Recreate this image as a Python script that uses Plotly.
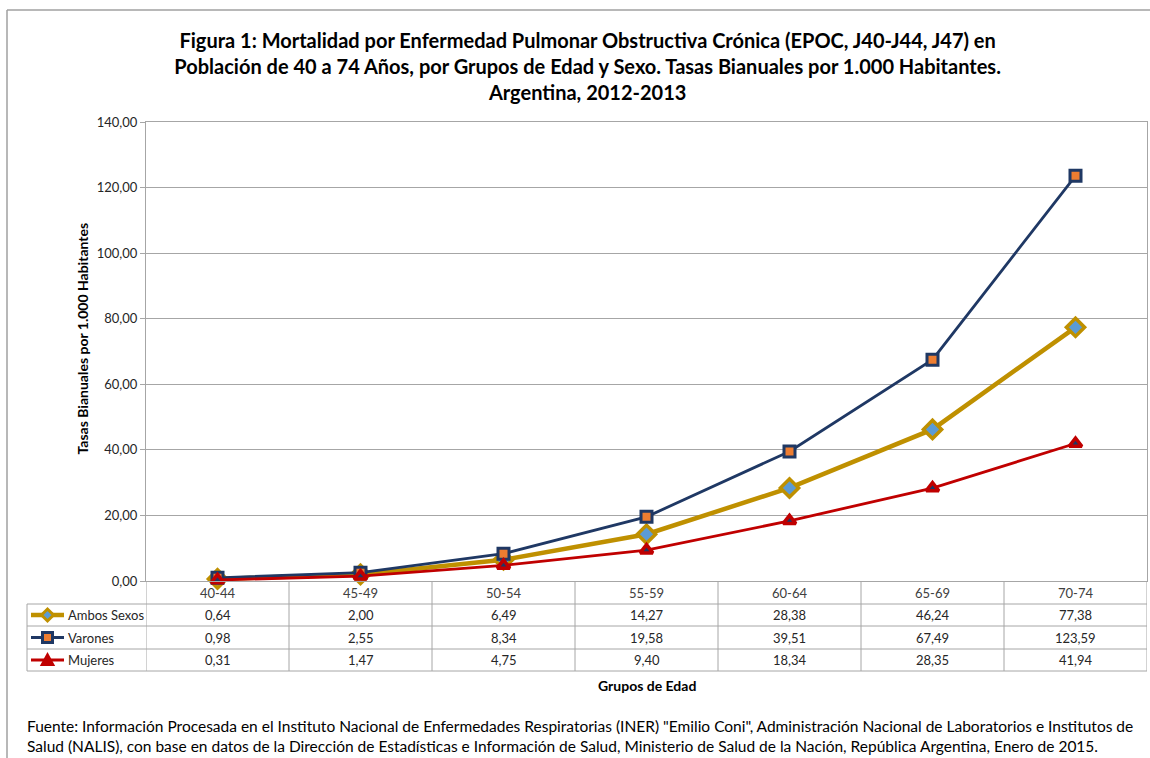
import plotly.graph_objects as go

categories = ["40-44", "45-49", "50-54", "55-59", "60-64", "65-69", "70-74"]
ambos = [0.64, 2.00, 6.49, 14.27, 28.38, 46.24, 77.38]
varones = [0.98, 2.55, 8.34, 19.58, 39.51, 67.49, 123.59]
mujeres = [0.31, 1.47, 4.75, 9.40, 18.34, 28.35, 41.94]
series_names = ["Ambos Sexos", "Varones", "Mujeres"]
y_ticks = [0, 20, 40, 60, 80, 100, 120, 140]

title_text = ("Figura 1: Mortalidad por Enfermedad Pulmonar Obstructiva Crónica (EPOC, J40-J44, J47) en<br>"
              "Población de 40 a 74 Años, por Grupos de Edad y Sexo. Tasas Bianuales por 1.000 Habitantes.<br>"
              "Argentina, 2012-2013")
footnote = ("Fuente: Información Procesada en el Instituto Nacional de Enfermedades Respiratorias (INER) \"Emilio Coni\", "
            "Administración Nacional de Laboratorios e Institutos de<br>Salud (NALIS), con base en datos de la Dirección de "
            "Estadísticas e Información de Salud, Ministerio de Salud de la Nación, República Argentina, Enero de 2015.")

W, H = 1150, 758
L, R, T, B = 146, 1147, 122, 581
FONT = "Lato, 'Open Sans', sans-serif"
GOLD, NAVY, RED = "#BF9000", "#1F3864", "#C00000"
GRID = "#A6A6A6"
SHIFT1 = -10  # text offset compensation for single-line annotations


def xp(px):
    return (px - L) / (R - L)


def yp(py):
    return (B - py) / (B - T)


def fmt(v):
    return f"{v:.2f}".replace(".", ",")


fig = go.Figure()
fig.add_trace(go.Scatter(
    x=categories, y=ambos, name=series_names[0], mode="lines+markers",
    line=dict(color=GOLD, width=4.5),
    marker=dict(symbol="diamond", size=14, color="#5B9BD5", line=dict(color=GOLD, width=3.5)),
    cliponaxis=False))
fig.add_trace(go.Scatter(
    x=categories, y=varones, name=series_names[1], mode="lines+markers",
    line=dict(color=NAVY, width=2.8),
    marker=dict(symbol="square", size=11, color="#ED7D31", line=dict(color=NAVY, width=3)),
    cliponaxis=False))
fig.add_trace(go.Scatter(
    x=categories, y=mujeres, name=series_names[2], mode="lines+markers",
    line=dict(color=RED, width=2.8),
    marker=dict(symbol="triangle-up", size=11, color=NAVY, line=dict(color=RED, width=3.5)),
    cliponaxis=False))

shapes = []
annotations = []

# outer chart border (left and top edges visible)
shapes.append(dict(type="line", xref="paper", yref="paper", x0=xp(7), x1=xp(7), y0=yp(758), y1=yp(10),
                   line=dict(color="#A0A0A0", width=1.5)))
shapes.append(dict(type="line", xref="paper", yref="paper", x0=xp(7), x1=xp(1150), y0=yp(10), y1=yp(10),
                   line=dict(color="#A0A0A0", width=1.5)))

# data table
row_lines = [604, 626, 649, 671]
table_bottom = row_lines[-1]
for py in row_lines:
    shapes.append(dict(type="line", xref="paper", yref="paper", x0=xp(27), x1=1, y0=yp(py), y1=yp(py),
                       line=dict(color=GRID, width=1)))
shapes.append(dict(type="line", xref="paper", yref="paper", x0=xp(27), x1=xp(27), y0=yp(604), y1=yp(table_bottom),
                   line=dict(color=GRID, width=1)))
for k in range(len(categories) + 1):
    shapes.append(dict(type="line", xref="x", yref="paper", x0=k - 0.5, x1=k - 0.5, y0=0, y1=yp(table_bottom),
                       line=dict(color=GRID, width=1)))

for i, c in enumerate(categories):
    annotations.append(dict(x=i, y=yp(593), xref="x", yref="paper", text=c, showarrow=False, yshift=SHIFT1,
                            font=dict(size=13, color="#404040", family=FONT)))

rows = [ambos, varones, mujeres]
row_centers = [615, 637.5, 660]
for r, vals in enumerate(rows):
    for i, v in enumerate(vals):
        annotations.append(dict(x=i, y=yp(row_centers[r]), xref="x", yref="paper", text=fmt(v), showarrow=False,
                                yshift=SHIFT1, font=dict(size=13, color="#262626", family=FONT)))
    annotations.append(dict(x=xp(66), y=yp(row_centers[r]), xref="paper", yref="paper", text=series_names[r],
                            showarrow=False, xanchor="left", yshift=SHIFT1,
                            font=dict(size=13, color="#262626", family=FONT)))

# legend keys
key_cfg = [(GOLD, 4.5), (NAVY, 2.8), (RED, 2.8)]
for r, (col, w) in enumerate(key_cfg):
    yc = yp(row_centers[r])
    shapes.append(dict(type="line", xref="paper", yref="paper", x0=xp(31), x1=xp(64), y0=yc, y1=yc,
                       line=dict(color=col, width=w)))
cx, cy = 47.5, row_centers[0]
shapes.append(dict(type="path", xref="paper", yref="paper",
                   path=f"M {xp(cx-6)} {yp(cy)} L {xp(cx)} {yp(cy-6)} L {xp(cx+6)} {yp(cy)} L {xp(cx)} {yp(cy+6)} Z",
                   fillcolor="#5B9BD5", line=dict(color=GOLD, width=3)))
cy = row_centers[1]
shapes.append(dict(type="rect", xref="paper", yref="paper", x0=xp(cx-5), x1=xp(cx+5), y0=yp(cy+5), y1=yp(cy-5),
                   fillcolor="#ED7D31", line=dict(color=NAVY, width=3)))
cy = row_centers[2]
shapes.append(dict(type="path", xref="paper", yref="paper",
                   path=f"M {xp(cx-6)} {yp(cy+5)} L {xp(cx)} {yp(cy-6)} L {xp(cx+6)} {yp(cy+5)} Z",
                   fillcolor=RED, line=dict(color=RED, width=2)))

# axis titles
annotations.append(dict(x=0.5, y=yp(686), xref="paper", yref="paper", text="<b>Grupos de Edad</b>",
                        showarrow=False, yshift=SHIFT1, font=dict(size=14, color="#000", family=FONT)))
annotations.append(dict(x=xp(71), y=yp(339), xref="paper", yref="paper", text="<b>Tasas Bianuales por 1.000 Habitantes</b>",
                        showarrow=False, textangle=-90, font=dict(size=14, color="#000", family=FONT)))
# footnote
annotations.append(dict(x=xp(25), y=yp(757), xref="paper", yref="paper", text=footnote, showarrow=False,
                        xanchor="left", align="left", font=dict(size=15.5, color="#000", family=FONT)))

fig.update_layout(
    width=W, height=H,
    margin=dict(l=L, r=W - R, t=T, b=H - B),
    paper_bgcolor="white", plot_bgcolor="white",
    separators=",.",
    showlegend=False,
    font=dict(family=FONT),
    title=dict(text="<b>" + title_text + "</b>", x=0.511, xanchor="center", y=1 - 48 / H, yanchor="top",
               font=dict(size=20, color="#000", family=FONT)),
    shapes=shapes, annotations=annotations,
)
fig.update_xaxes(type="category", range=[-0.5, len(categories) - 0.5], showticklabels=False,
                 showgrid=False, showline=True, linecolor=GRID, linewidth=1, mirror=True, ticks="")
fig.update_yaxes(range=[0, 140], tickvals=y_ticks, tickformat=".2f", showgrid=True, gridcolor=GRID, gridwidth=1,
                 showline=True, linecolor=GRID, linewidth=1, mirror=True, ticks="outside", ticklen=5,
                 tickcolor=GRID, tickfont=dict(size=13, color="#262626", family=FONT), zeroline=False)

fig.write_html("out.html", config={"displayModeBar": False},
               post_script="document.body.style.margin='0';document.body.style.overflow='hidden';")
